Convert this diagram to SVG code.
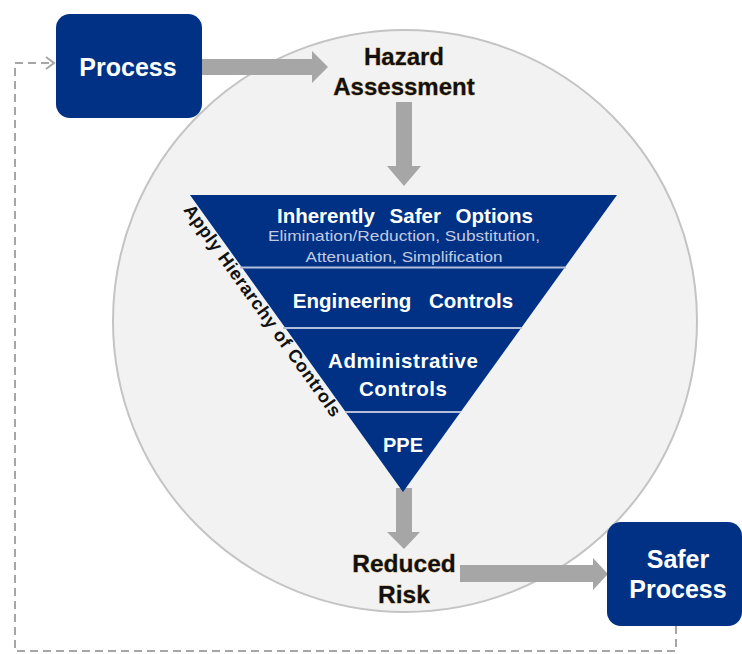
<svg xmlns="http://www.w3.org/2000/svg" width="742" height="654" viewBox="0 0 742 654">
<defs>
<style>
.box{fill:#003184;}
.wt{fill:#ffffff;font-family:"Liberation Sans",Arial,sans-serif;font-weight:bold;text-anchor:middle;}
.bt{fill:#111111;font-family:"Liberation Sans",Arial,sans-serif;font-weight:bold;text-anchor:middle;stroke:#c9a66b;stroke-width:0.8;paint-order:stroke;}
.sub{fill:#c3cbe2;font-family:"Liberation Sans",Arial,sans-serif;text-anchor:middle;}
.garrow{fill:#a6a6a6;}
.sep{stroke:#b4bfdc;stroke-width:2;}
.dash{fill:none;stroke:#a6a6a6;stroke-width:2;stroke-dasharray:8 5;}
</style>
</defs>
<rect width="742" height="654" fill="#ffffff"/>
<g id="circle">
<ellipse cx="405" cy="321" rx="292" ry="291" fill="#f2f2f2" stroke="#c4c4c4" stroke-width="2"/>
</g>
<g id="connectors">
<path class="dash" d="M676,626 V651 H15 V63 H52"/>
<path d="M46,57 L54,63 L46,69" fill="none" stroke="#a6a6a6" stroke-width="2"/>
<polygon class="garrow" points="202,59 312,59 312,51 328,67 312,83 312,75 202,75"/>
<polygon class="garrow" points="396,102 412,102 412,166 421,166 404,186 387,166 396,166"/>
<polygon class="garrow" points="396,488 412,488 412,532 420,532 404,549 387,532 396,532"/>
<polygon class="garrow" points="460,565 593,565 593,558 608,574 593,590 593,582 460,582"/>
</g>
<g id="process">
<rect class="box" x="56" y="14" width="146" height="104" rx="14"/>
<text class="wt" x="128" y="76" font-size="25">Process</text>
</g>
<g id="hazard">
<text class="bt" x="404" y="65" font-size="24">Hazard</text>
<text class="bt" x="404" y="95" font-size="24">Assessment</text>
</g>
<g id="hierarchy">
<polygon fill="#003184" points="190,195 617,195 403,492"/>
<line class="sep" x1="240" y1="267.5" x2="566" y2="267.5"/>
<line class="sep" x1="283" y1="328" x2="522" y2="328"/>
<line class="sep" x1="345" y1="412" x2="461" y2="412"/>
</g>
<g id="inherently">
<text class="wt" x="405" y="223" font-size="20.5" word-spacing="9">Inherently Safer Options</text>
<text class="sub" x="404" y="241" font-size="14.5" textLength="272" lengthAdjust="spacingAndGlyphs">Elimination/Reduction,  Substitution,</text>
<text class="sub" x="404" y="262" font-size="14.5" textLength="197" lengthAdjust="spacingAndGlyphs">Attenuation,  Simplification</text>
</g>
<g id="engineering">
<text class="wt" x="403" y="308" font-size="20.5" word-spacing="12">Engineering Controls</text>
</g>
<g id="administrative">
<text class="wt" x="403" y="368" font-size="20.5" textLength="150" lengthAdjust="spacing">Administrative</text>
<text class="wt" x="403" y="396" font-size="20.5" textLength="88" lengthAdjust="spacing">Controls</text>
</g>
<g id="ppe">
<text class="wt" x="403" y="452" font-size="20">PPE</text>
</g>
<g id="apply-label">
<text transform="translate(183,210) rotate(54.35)" x="0" y="0" font-family="'Liberation Sans',Arial,sans-serif" font-weight="bold" font-size="18" fill="#111111" textLength="256" lengthAdjust="spacing">Apply Hierarchy of Controls</text>
</g>
<g id="reduced-risk">
<text class="bt" x="404" y="572" font-size="24.5">Reduced</text>
<text class="bt" x="404" y="603" font-size="24.5">Risk</text>
</g>
<g id="safer-process">
<rect class="box" x="607" y="522" width="135" height="104" rx="14"/>
<text class="wt" x="678" y="568" font-size="25">Safer</text>
<text class="wt" x="678" y="598" font-size="25">Process</text>
</g>
</svg>
